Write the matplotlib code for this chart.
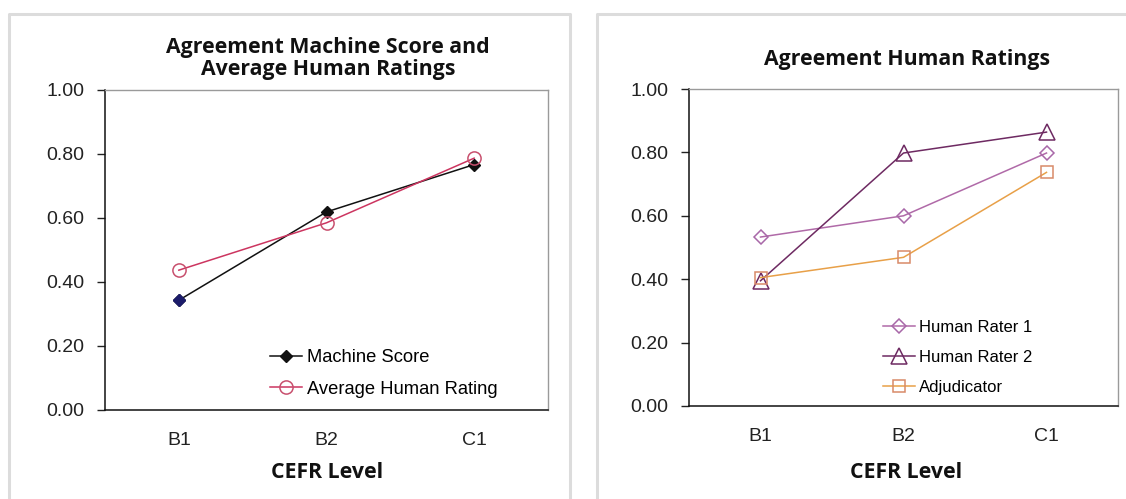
import matplotlib
matplotlib.use("Agg")
import matplotlib.pyplot as plt
from matplotlib.lines import Line2D

levels = ["B1", "B2", "C1"]
machine_score = [0.343, 0.619, 0.767]
avg_human = [0.437, 0.585, 0.787]
rater1 = [0.533, 0.600, 0.798]
rater2 = [0.395, 0.798, 0.864]
adjudicator = [0.405, 0.469, 0.737]
yticks = [0.0, 0.2, 0.4, 0.6, 0.8, 1.0]

W, H = 1126, 499
fig = plt.figure(figsize=(W / 100, H / 100), dpi=100)
fig.patch.set_facecolor("white")

tick_font = "Liberation Sans"
title_font = "Open Sans"


def px_rect(x0, y0, x1, y1):
    return [x0 / W, 1 - y1 / H, (x1 - x0) / W, (y1 - y0) / H]


def ftext(xp, yp, s, **kw):
    fig.text(xp / W, 1 - yp / H, s, ha="center", va="center", **kw)


def style_axes(ax):
    x = list(range(len(levels)))
    ax.set_xlim(-0.5, 2.5)
    ax.set_ylim(0, 1)
    ax.set_xticks(x)
    ax.set_xticklabels(levels, fontsize=14, family=tick_font, color="#222222")
    ax.set_yticks(yticks)
    ax.set_yticklabels([f"{v:.2f}" for v in yticks], fontsize=14,
                       family=tick_font, color="#222222")
    ax.tick_params(axis="x", length=0, pad=16)
    ax.tick_params(axis="y", length=6, width=1, pad=9, color="#222222")
    for s in ("left", "bottom"):
        ax.spines[s].set_color("#111111")
        ax.spines[s].set_linewidth(1.1)
    for s in ("top", "right"):
        ax.spines[s].set_color("#9a9a9a")
        ax.spines[s].set_linewidth(1.0)
    return x


# panel borders
border = "#dcdcdc"
for pts in ([(9, H), (9, 14), (570, 14), (570, H)],
            [(597, H), (597, 14), (W, 14)]):
    xs = [p[0] / W for p in pts]
    ys = [1 - p[1] / H for p in pts]
    fig.add_artist(Line2D(xs, ys, color=border, lw=2.2,
                          transform=fig.transFigure))

title_kw = dict(fontsize=15.3, fontweight="bold", family=title_font,
                color="#111111")

# left chart
ax1 = fig.add_axes(px_rect(105, 90, 548, 410))
x = style_axes(ax1)
ax1.plot(x, machine_score, color="#111111", lw=1.1, marker="D", ms=6.5,
         mfc="#111111", mec="#111111", label="Machine Score", zorder=3)
ax1.plot(x[:1], machine_score[:1], ls="none", marker="D", ms=6.5,
         mfc="#1c1c6a", mec="#1c1c6a", zorder=4)
ax1.plot(x, avg_human, color="#cc3560", lw=1.1, marker="o", ms=9.5,
         mfc="none", mec="#c8506e", mew=1.1, label="Average Human Rating",
         zorder=3)
ftext(328, 47, "Agreement Machine Score and", **title_kw)
ftext(328, 70, "Average Human Ratings", **title_kw)
ftext(327, 472, "CEFR Level", **title_kw)
ax1.legend(loc="upper left", bbox_to_anchor=(2.70, 1.50),
           bbox_transform=fig.dpi_scale_trans, frameon=False,
           prop={"family": tick_font, "size": 13.2}, handlelength=1.75,
           handletextpad=0.25, labelspacing=0.8, borderpad=0,
           borderaxespad=0)

# right chart
ax2 = fig.add_axes(px_rect(689, 89, 1118, 406))
x = style_axes(ax2)
ax2.plot(x, rater1, color="#b06aa8", lw=1.1, marker="D", ms=7.5,
         mfc="none", mec="#a868a8", mew=1.1, label="Human Rater 1", zorder=3)
ax2.plot(x, rater2, color="#6e2a62", lw=1.1, marker="^", ms=11.5,
         mfc="none", mec="#6e2a62", mew=1.1, label="Human Rater 2", zorder=3)
ax2.plot(x, adjudicator, color="#e8a048", lw=1.1, marker="s", ms=9,
         mfc="none", mec="#d88a68", mew=1.1, label="Adjudicator", zorder=3)
ftext(907, 60, "Agreement Human Ratings", **title_kw)
ftext(906, 472, "CEFR Level", **title_kw)
ax2.legend(loc="upper left", bbox_to_anchor=(8.83, 1.79),
           bbox_transform=fig.dpi_scale_trans, frameon=False,
           prop={"family": tick_font, "size": 12}, handlelength=1.9,
           handletextpad=0.25, labelspacing=0.9, borderpad=0,
           borderaxespad=0)

fig.savefig("out.png", dpi=100, facecolor="white")
